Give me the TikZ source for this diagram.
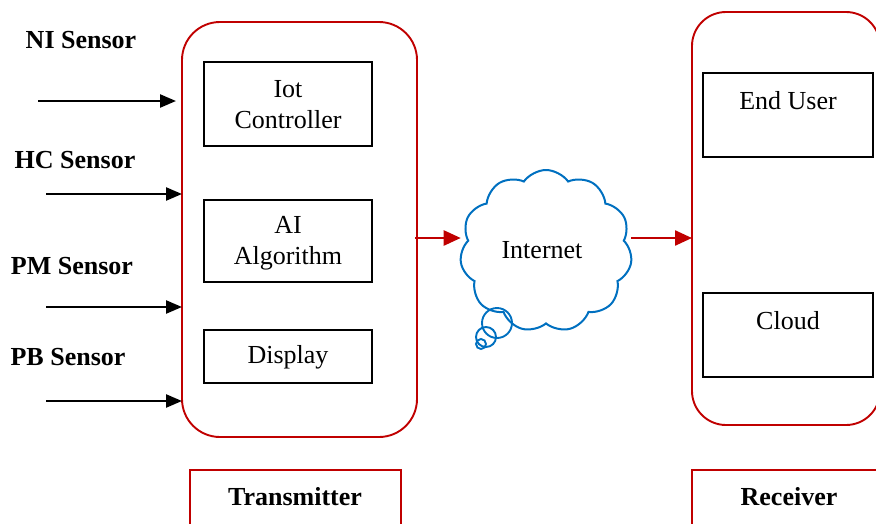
\documentclass[tikz,border=0pt]{standalone}
\usepackage{fontspec}
\setmainfont{Liberation Serif}
\usetikzlibrary{arrows.meta,shapes.symbols}
\definecolor{frame}{HTML}{C00000}
\definecolor{netblue}{HTML}{0070C0}
\begin{document}
\begin{tikzpicture}[x=1pt,y=-1pt,
  every node/.style={font=\fontsize{26}{31}\selectfont},
  panel/.style={draw=frame,line width=1.9pt,rounded corners=38pt},
  unit/.style={draw=black,line width=1.8pt},
  tag/.style={draw=frame,line width=2.2pt},
  sensor/.style={font=\fontsize{26}{29}\selectfont\bfseries},
  feed/.style={line width=2.4pt,-{Triangle[length=16pt,width=13pt]}},
  link/.style={draw=frame,line width=2.4pt,-{Triangle[length=17pt,width=15pt]}}]
\useasboundingbox (0,0) rectangle (876,523);
% transmitter block
\draw[panel] (182,22) rectangle (417,437);
\coordinate (txL1) at (176,101);
\coordinate (txL2) at (182,194);
\coordinate (txL3) at (182,307);
\coordinate (txL4) at (182,401);
\coordinate (txR) at (415,238);
\draw[unit] (204,62) rectangle (372,146);
\node[align=center] (iot) at (288,105) {Iot\\Controller};
\draw[unit] (204,200) rectangle (372,282);
\node[align=center] (ai) at (288,243) {AI\\Algorithm};
\draw[unit] (204,330) rectangle (372,383);
\node (disp) at (288,357) {Display};
% receiver block
\draw[panel,rounded corners=34pt] (692,12) rectangle (880,425);
\coordinate (rxL) at (692,238);
\draw[unit] (703,73) rectangle (873,157);
\node (user) at (788,101) {End User};
\draw[unit] (703,293) rectangle (873,377);
\node (cld) at (788,321) {Cloud};
% captions
\draw[tag] (190,470) rectangle (401,530);
\node[sensor] (txcap) at (295,497) {Transmitter};
\draw[tag] (692,470) rectangle (890,530);
\node[sensor] (rxcap) at (789,497) {Receiver};
% sensors
\node[sensor] (ni) at (81,40) {NI Sensor};
\node[sensor] (hc) at (75,160) {HC Sensor};
\node[sensor] (pm) at (72,266) {PM Sensor};
\node[sensor] (pb) at (68,357) {PB Sensor};
\coordinate (s1) at (38,101);
\coordinate (s2) at (46,194);
\coordinate (s3) at (46,307);
\coordinate (s4) at (46,401);
\draw[feed] (s1) -- (txL1);
\draw[feed] (s2) -- (txL2);
\draw[feed] (s3) -- (txL3);
\draw[feed] (s4) -- (txL4);
% internet cloud
\node[cloud,draw=netblue,line width=2pt,cloud puffs=11,cloud puff arc=110,
      minimum width=172pt,minimum height=162pt,inner sep=0pt] (net) at (546,251) {};
\node (nettext) at (542,250) {Internet};
\draw[netblue,line width=1.9pt] (497,323) circle (15);
\draw[netblue,line width=1.9pt] (486,337) circle (10);
\draw[netblue,line width=1.9pt] (481,344) circle (5);
\draw[link] (txR) -- (net.west |- txR);
\draw[link] (net.east |- txR) -- (rxL);
\end{tikzpicture}
\end{document}
